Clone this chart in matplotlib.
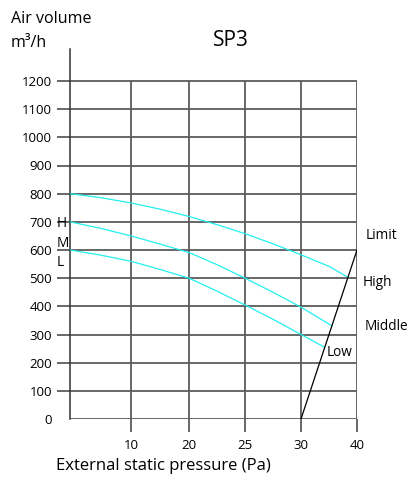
import numpy as np
import matplotlib
matplotlib.use("Agg")
import matplotlib.pyplot as plt

plt.rcParams['font.family'] = ['Open Sans', 'DejaVu Sans']

# ------------------------------------------------------------
# data (x given as grid index: 0 = origin, 1..5 = ticks 10..40)
# ------------------------------------------------------------
x_ticklabels = ["10", "20", "25", "30", "40"]
y_ticks = [0, 100, 200, 300, 400, 500, 600, 700, 800, 900, 1000, 1100, 1200]

high_idx = [0, 0.5, 1, 1.5, 2, 2.5, 3, 3.5, 4, 4.5, 4.84]
high_val = [800, 786, 767, 745, 719, 690, 658, 622, 583, 542, 503]

mid_idx = [0, 0.5, 1, 1.5, 2, 2.5, 3, 3.5, 4, 4.55]
mid_val = [700, 677, 650, 621, 591, 548, 500, 450, 397, 331]

low_idx = [0, 0.5, 1, 1.5, 2, 2.5, 3, 3.5, 4, 4.42]
low_val = [600, 582, 560, 531, 500, 454, 405, 354, 300, 255]

limit_idx = [4, 5]
limit_val = [0, 600]

# ------------------------------------------------------------
# layout
# ------------------------------------------------------------
W, H = 414, 484
grid_px = [0, 61, 119, 175, 231, 287]     # pixel spacing of the vertical grid lines
grid_col = '#5c5c5c'
cyan = '#22f0f0'
fs_tick = 9.5
fs_lab = 9.8


def xpos(idx):
    return np.interp(idx, np.arange(len(grid_px)), grid_px)


def fx(px):
    return px / W


def fy(py):
    return 1 - py / H


fig = plt.figure(figsize=(W / 100, H / 100), dpi=100)
ax_left, ax_right = 70, 357
ax_top, ax_bot = 49, 419
ax = fig.add_axes([fx(ax_left), fy(ax_bot), fx(ax_right - ax_left), (ax_bot - ax_top) / H])

ymax = 1200 * (ax_bot - ax_top) / (ax_bot - 81)
ax.set_xlim(0, grid_px[-1])
ax.set_ylim(0, ymax)

for s in ['top', 'right', 'bottom']:
    ax.spines[s].set_visible(False)
ax.spines['left'].set_color('#333333')
ax.spines['left'].set_linewidth(1.1)

# grid
ax.hlines(y_ticks, 0, grid_px[-1], color=grid_col, lw=1.3, zorder=1)
ax.vlines(grid_px[1:], 0, 1200, color=grid_col, lw=1.3, zorder=1)

# ticks
ax.set_yticks(y_ticks)
ax.set_yticklabels([str(v) for v in y_ticks], fontsize=fs_tick)
ax.set_xticks(grid_px[1:])
ax.set_xticklabels(x_ticklabels, fontsize=fs_tick)
ax.tick_params(axis='y', length=9.4, width=1.3, color=grid_col, pad=3.5)
ax.tick_params(axis='x', length=9.4, width=1.3, color=grid_col, pad=5)
ax.yaxis.get_major_ticks()[0].tick1line.set_visible(False)

# curves
ax.plot(xpos(high_idx), high_val, color=cyan, lw=0.9, zorder=3)
ax.plot(xpos(mid_idx), mid_val, color=cyan, lw=0.9, zorder=3)
ax.plot(xpos(low_idx), low_val, color=cyan, lw=0.9, zorder=3)
ax.plot(xpos(limit_idx), limit_val, color='black', lw=0.9, zorder=4)

# texts
fig.text(fx(11), fy(19), "Air volume", fontsize=11.5, va='center', ha='left')
fig.text(fx(11), fy(43), "m³/h", fontsize=11.5, va='center', ha='left')
fig.text(fx(231), fy(41), "SP3", fontsize=15, va='center', ha='center')
fig.text(fx(163), fy(466), "External static pressure (Pa)", fontsize=12, va='center', ha='center')

fig.text(fx(57), fy(223), "H", fontsize=fs_lab, va='center', ha='left')
fig.text(fx(57), fy(243), "M", fontsize=fs_lab, va='center', ha='left')
fig.text(fx(57), fy(262), "L", fontsize=fs_lab, va='center', ha='left')

fig.text(fx(366), fy(236), "Limit", fontsize=fs_lab, va='center', ha='left')
fig.text(fx(363), fy(283), "High", fontsize=fs_lab, va='center', ha='left')
fig.text(fx(365), fy(327), "Middle", fontsize=fs_lab, va='center', ha='left')
fig.text(fx(327), fy(353), "Low", fontsize=fs_lab, va='center', ha='left')

fig.savefig("out.png", dpi=100)
